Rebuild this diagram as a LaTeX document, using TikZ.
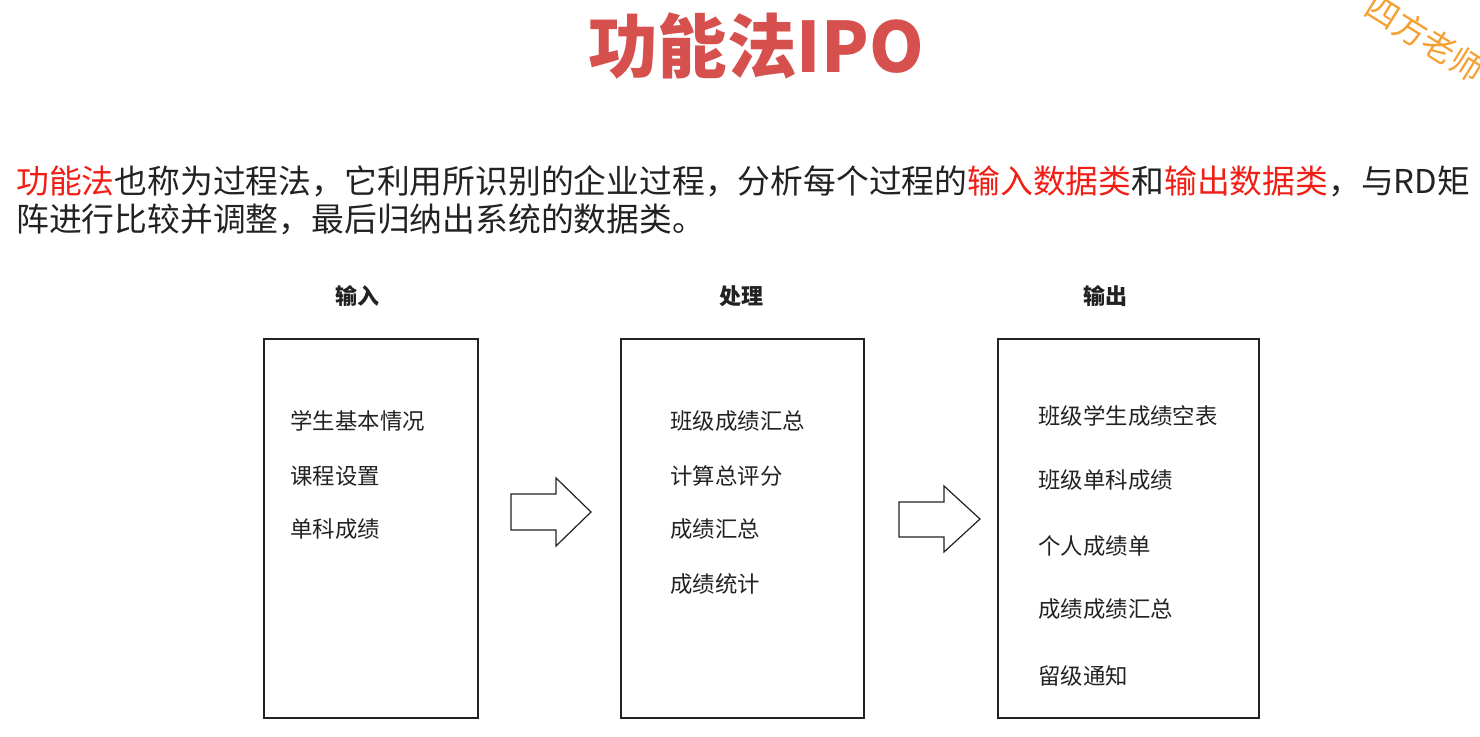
\documentclass[tikz,border=0pt]{standalone}
\usepackage{fontspec}
\setmainfont{Noto Sans CJK SC}
\newfontfamily\cjk{Noto Sans CJK SC}
\definecolor{titlered}{RGB}{214,80,78}
\definecolor{hired}{RGB}{240,30,20}
\definecolor{txt}{RGB}{34,34,34}
\definecolor{wmark}{RGB}{245,160,50}
\begin{document}
\begin{tikzpicture}[x=0.5pt,y=-0.5pt,
  box/.style={draw=txt,line width=0.7pt},
  hdr/.style={font=\cjk\bfseries\fontsize{11}{13}\selectfont,text=txt,inner sep=0pt},
  item/.style={font=\cjk\fontsize{11.2}{13}\selectfont,text=txt,anchor=west,inner sep=0pt},
  para/.style={font=\cjk\fontsize{16.4}{20}\selectfont,text=txt,anchor=west,inner sep=0pt},
  blockarrow/.style={draw=txt,line width=0.6pt,fill=white}]
\useasboundingbox (0,0) rectangle (1480,737);
\clip (0,0) rectangle (1480,737);
% title
\node[font=\cjk\bfseries\fontsize{34.8}{40}\selectfont,text=titlered,inner sep=0pt] (title) at (756,46) {功能法IPO};
% watermark
\node[font=\cjk\fontsize{16.5}{18}\selectfont,text=wmark,rotate=-32,inner sep=0pt] (wm) at (1425,38) {四方老师};
% paragraph
\node[para] (p1) at (16,181) {\textcolor{hired}{功能法}也称为过程法，它利用所识别的企业过程，分析每个过程的\textcolor{hired}{输入数据类}和\textcolor{hired}{输出数据类}，与RD矩};
\node[para] (p2) at (16,219) {阵进行比较并调整，最后归纳出系统的数据类。};
% headers
\node[hdr] (h1) at (357,296) {输入};
\node[hdr] (h2) at (741,296) {处理};
\node[hdr] (h3) at (1105,296) {输出};
% boxes
\draw[box] (264,339) rectangle (478,718);
\draw[box] (621,339) rectangle (864,718);
\draw[box] (998,339) rectangle (1259,718);
% box 1 items
\node[item] (a1) at (290,421) {学生基本情况};
\node[item] (a2) at (290,476) {课程设置};
\node[item] (a3) at (290,529) {单科成绩};
% box 2 items
\node[item] (b1) at (670,421) {班级成绩汇总};
\node[item] (b2) at (670,476) {计算总评分};
\node[item] (b3) at (670,529) {成绩汇总};
\node[item] (b4) at (670,584) {成绩统计};
% box 3 items
\node[item] (c1) at (1038,416) {班级学生成绩空表};
\node[item] (c2) at (1038,480) {班级单科成绩};
\node[item] (c3) at (1038,546) {个人成绩单};
\node[item] (c4) at (1038,609) {成绩成绩汇总};
\node[item] (c5) at (1038,676) {留级通知};
% block arrows
\draw[blockarrow] (511,494) -- (556,494) -- (556,478) -- (591,512) -- (556,546) -- (556,530) -- (511,530) -- cycle;
\draw[blockarrow] (899,502) -- (944,502) -- (944,486) -- (980,519) -- (944,552) -- (944,537) -- (899,537) -- cycle;
\end{tikzpicture}
\end{document}
